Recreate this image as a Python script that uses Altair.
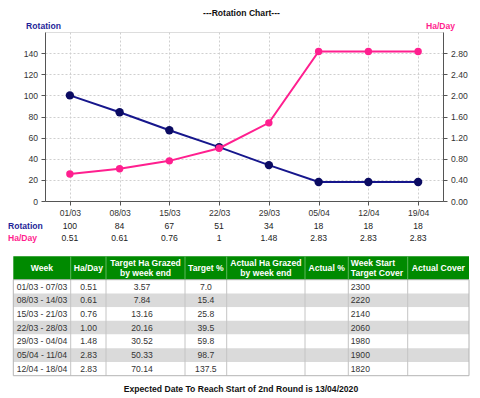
import altair as alt
import pandas as pd

# ---------------- data ----------------
dates = ["01/03", "08/03", "15/03", "22/03", "29/03", "05/04", "12/04", "19/04"]
rotation = [100, 84, 67, 51, 34, 18, 18, 18]
ha_day = [0.51, 0.61, 0.76, 1.0, 1.48, 2.83, 2.83, 2.83]
ha_day_labels = ["0.51", "0.61", "0.76", "1", "1.48", "2.83", "2.83", "2.83"]

headers = [["Week"], ["Ha/Day"], ["Target Ha Grazed", "by week end"], ["Target %"],
           ["Actual Ha Grazed", "by week end"], ["Actual %"], ["Week Start", "Target Cover"],
           ["Actual Cover"]]
weeks = ["01/03 - 07/03", "08/03 - 14/03", "15/03 - 21/03", "22/03 - 28/03",
         "29/03 - 04/04", "05/04 - 11/04", "12/04 - 18/04"]
tbl_ha = ["0.51", "0.61", "0.76", "1.00", "1.48", "2.83", "2.83"]
tbl_target_ha = ["3.57", "7.84", "13.16", "20.16", "30.52", "50.33", "70.14"]
tbl_target_pct = ["7.0", "15.4", "25.8", "39.5", "59.8", "98.7", "137.5"]
tbl_actual_ha = ["", "", "", "", "", "", ""]
tbl_actual_pct = ["", "", "", "", "", "", ""]
tbl_cover = ["2300", "2220", "2140", "2060", "1980", "1900", "1820"]
tbl_actual_cover = ["", "", "", "", "", "", ""]

title_text = "---Rotation Chart---"
footer_text = "Expected Date To Reach Start of 2nd Round is 13/04/2020"

# ---------------- layout / style ----------------
W, H = 398, 169
FONT = "Liberation Sans"
NAVY_LINE = "#16168c"
NAVY_PT = "#0b0b62"
PINK = "#ff1f8f"
FS = 8.6

col_w = [57.4, 35.3, 79, 41.7, 78.3, 43.3, 59.4, 61.3]
edges = [0.0]
for w in col_w:
    edges.append(edges[-1] + w)
TBL_W = edges[-1]
header_h = 23.4
row_h = 13.71
TBL_H = header_h + row_h * len(weeks)
line_h = 10
body_align = ["center", "left", "center", "center", "center", "center", "left", "center"]
body_pad = [0, 9.5, -3.5, 0, 0, 0, 2.5, 0]
head_align = ["center", "center", "center", "center", "center", "center", "left", "center"]
head_pad = [0, 0, 0, 0, 0, 0, 2.5, 0]

# ---------------- line chart ----------------
df = pd.DataFrame({"date": dates, "rotation": rotation, "ha": ha_day, "ha_lab": ha_day_labels})

x_enc = alt.X("date:N", sort=dates, scale=alt.Scale(type="point", padding=0.5),
              axis=alt.Axis(title=None, labelAngle=0, grid=True, gridDash=[2, 2],
                            gridColor="#cfcfcf", tickSize=4, labelPadding=3,
                            labelFontSize=FS, labelColor="#333", domainColor="#555",
                            tickColor="#555"))

rot_y = alt.Y("rotation:Q", scale=alt.Scale(domain=[0, 160], nice=False),
              axis=alt.Axis(orient="left", values=[0, 20, 40, 60, 80, 100, 120, 140],
                            title="Rotation", titleAngle=0, titleX=-2, titleY=-7,
                            titleAlign="center", titleBaseline="middle",
                            titleColor="#1f1f99", titleFontWeight="bold", titleFontSize=FS,
                            grid=True, gridDash=[2, 2], gridColor="#cfcfcf",
                            tickSize=4, labelPadding=3.5, labelFontSize=FS,
                            labelColor="#333", domainColor="#555", tickColor="#555"))

ha_y = alt.Y("ha:Q", scale=alt.Scale(domain=[0, 3.2], nice=False),
             axis=alt.Axis(orient="right", values=[0, 0.4, 0.8, 1.2, 1.6, 2.0, 2.4, 2.8],
                           format=".2f", title="Ha/Day", titleAngle=0, titleX=-3, titleY=-7,
                           titleAlign="center", titleBaseline="middle",
                           titleColor=PINK, titleFontWeight="bold", titleFontSize=FS,
                           grid=False, tickSize=4, labelPadding=3.5, labelFontSize=FS,
                           labelColor="#333", domainColor="#555", tickColor="#555"))

rot_base = alt.Chart(df).encode(x=x_enc, y=rot_y)
rot = alt.layer(rot_base.mark_line(color=NAVY_LINE, strokeWidth=2),
                rot_base.mark_circle(color=NAVY_PT, size=70, opacity=1))

ha_base = alt.Chart(df).encode(x=x_enc, y=ha_y)
ha = alt.layer(ha_base.mark_line(color=PINK, strokeWidth=2),
               ha_base.mark_circle(color=PINK, size=55, opacity=1))

rot_vals = alt.Chart(df).mark_text(fontSize=FS, color="#222", font=FONT).encode(
    x=x_enc, y=alt.value(193.7), text="rotation:Q")
ha_vals = alt.Chart(df).mark_text(fontSize=FS, color="#222", font=FONT).encode(
    x=x_enc, y=alt.value(206.3), text="ha_lab:N")

inner = alt.layer(rot, ha, rot_vals, ha_vals).resolve_scale(y="independent")

# row labels under the axis
rot_lab = alt.Chart(pd.DataFrame({"t": ["Rotation"]})).mark_text(
    align="left", fontSize=FS, fontWeight="bold", color="#1f1f99", font=FONT).encode(
    x=alt.value(-37), y=alt.value(193.7), text="t:N")
ha_lab = alt.Chart(pd.DataFrame({"t": ["Ha/Day"]})).mark_text(
    align="left", fontSize=FS, fontWeight="bold", color=PINK, font=FONT).encode(
    x=alt.value(-37), y=alt.value(206.3), text="t:N")

title_mark = alt.Chart(pd.DataFrame({"t": [title_text]})).mark_text(
    fontSize=FS, fontWeight="bold", color="#111", font=FONT).encode(
    x=alt.value(196.5), y=alt.value(-19), text="t:N")
footer_mark = alt.Chart(pd.DataFrame({"t": [footer_text]})).mark_text(
    fontSize=FS, fontWeight="bold", color="#111", font=FONT).encode(
    x=alt.value(196), y=alt.value(357), text="t:N")

# ---------------- table ----------------
xs = alt.Scale(domain=[0, TBL_W], range=[13.3 - 45, 469 - 45], nice=False, zero=False)
ys = alt.Scale(domain=[0, TBL_H], range=[256.3 - 32, 375.7 - 32], nice=False, zero=False)

rows_df = pd.DataFrame({
    "x0": [0.0] * len(weeks), "x1": [TBL_W] * len(weeks),
    "y0": [header_h + i * row_h for i in range(len(weeks))],
    "y1": [header_h + (i + 1) * row_h for i in range(len(weeks))],
    "par": [i % 2 for i in range(len(weeks))],
})
row_rects = alt.Chart(rows_df).mark_rect().encode(
    x=alt.X("x0:Q", scale=xs, axis=None), x2="x1:Q",
    y=alt.Y("y0:Q", scale=ys, axis=None), y2="y1:Q",
    color=alt.Color("par:N", scale=alt.Scale(domain=[0, 1], range=["#ffffff", "#dadada"]),
                    legend=None))

head_df = pd.DataFrame({"x0": [0.0], "x1": [TBL_W], "y0": [0.0], "y1": [header_h]})
head_rect = alt.Chart(head_df).mark_rect(color="#008a00").encode(
    x=alt.X("x0:Q", scale=xs, axis=None), x2="x1:Q",
    y=alt.Y("y0:Q", scale=ys, axis=None), y2="y1:Q")

body_df = pd.DataFrame({"x0": [0.0], "x1": [TBL_W], "y0": [header_h], "y1": [TBL_H]})
body_border = alt.Chart(body_df).mark_rect(fillOpacity=0, stroke="#b4b4b4", strokeWidth=1).encode(
    x=alt.X("x0:Q", scale=xs, axis=None), x2="x1:Q",
    y=alt.Y("y0:Q", scale=ys, axis=None), y2="y1:Q")

inner_edges = edges[1:-1]
hdiv_df = pd.DataFrame({"x": inner_edges, "y0": [0.0] * len(inner_edges),
                        "y1": [header_h] * len(inner_edges)})
bdiv_df = pd.DataFrame({"x": inner_edges, "y0": [header_h] * len(inner_edges),
                        "y1": [TBL_H] * len(inner_edges)})
head_div = alt.Chart(hdiv_df).mark_rule(color="#5cb85c", strokeWidth=1).encode(
    x=alt.X("x:Q", scale=xs, axis=None),
    y=alt.Y("y0:Q", scale=ys, axis=None), y2="y1:Q")
body_div = alt.Chart(bdiv_df).mark_rule(color="#c4c4c4", strokeWidth=1).encode(
    x=alt.X("x:Q", scale=xs, axis=None),
    y=alt.Y("y0:Q", scale=ys, axis=None), y2="y1:Q")

columns = [weeks, tbl_ha, tbl_target_ha, tbl_target_pct, tbl_actual_ha,
           tbl_actual_pct, tbl_cover, tbl_actual_cover]
cells = []
for c, vals in enumerate(columns):
    for r, v in enumerate(vals):
        if v == "":
            continue
        if body_align[c] == "center":
            tx = edges[c] + col_w[c] / 2 + body_pad[c]
        else:
            tx = edges[c] + body_pad[c]
        cells.append({"tx": tx, "ty": header_h + (r + 0.5) * row_h, "t": v,
                      "al": body_align[c]})
cells_df = pd.DataFrame(cells)

heads = []
for c, lines in enumerate(headers):
    if head_align[c] == "center":
        tx = edges[c] + col_w[c] / 2 + head_pad[c]
    else:
        tx = edges[c] + head_pad[c]
    n = len(lines)
    for k, ln in enumerate(lines):
        ty = header_h / 2 + (k - (n - 1) / 2) * line_h
        heads.append({"tx": tx, "ty": ty, "t": ln, "al": head_align[c]})
heads_df = pd.DataFrame(heads)


def text_layer(data, align, **kw):
    return alt.Chart(data).transform_filter(alt.datum.al == align).mark_text(
        align=align, baseline="middle", font=FONT, **kw).encode(
        x=alt.X("tx:Q", scale=xs, axis=None),
        y=alt.Y("ty:Q", scale=ys, axis=None), text="t:N")


body_c = text_layer(cells_df, "center", fontSize=FS, color="#333")
body_l = text_layer(cells_df, "left", fontSize=FS, color="#333")
head_c = text_layer(heads_df, "center", fontSize=FS, color="white", fontWeight="bold")
head_l = text_layer(heads_df, "left", fontSize=FS, color="white", fontWeight="bold")

table = alt.layer(row_rects, head_rect, body_div, body_border, head_div,
                  body_c, body_l, head_c, head_l)

chart = alt.layer(inner, table, rot_lab, ha_lab, title_mark, footer_mark).resolve_scale(
    x="independent", y="independent").properties(
    width=W, height=H, autosize="none",
    padding={"left": 37, "top": 24, "right": 29, "bottom": 197},
).configure_view(stroke=None).configure(font=FONT)

chart.save("out.html", embed_options={"renderer": "svg", "actions": False})
